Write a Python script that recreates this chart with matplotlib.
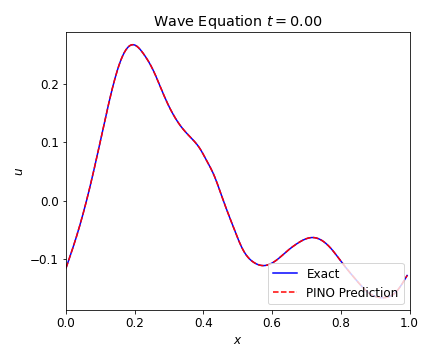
import matplotlib
matplotlib.use("Agg")
import matplotlib.pyplot as plt
import numpy as np

plt.rcParams["font.size"] = 12

# values (x, u)
x_pts = [0.0, 0.033, 0.062, 0.099, 0.138, 0.157, 0.176, 0.198, 0.225,
         0.254, 0.283, 0.307, 0.331, 0.360, 0.390, 0.409, 0.429, 0.458, 0.487,
         0.516, 0.545, 0.578, 0.612, 0.646, 0.671, 0.719, 0.767, 0.806, 0.845,
         0.884, 0.922, 0.961, 0.993]
u_exact = [-0.115, -0.056, 0.006, 0.100, 0.200, 0.237, 0.260, 0.267, 0.252,
           0.223, 0.183, 0.153, 0.130, 0.110, 0.089, 0.069, 0.046, 0.000, -0.045,
           -0.085, -0.105, -0.111, -0.102, -0.085, -0.074, -0.063, -0.079, -0.108, -0.136,
           -0.159, -0.166, -0.156, -0.128]
u_pred = u_exact


def spline(xp, yp, n=400):
    # natural cubic spline through the read points
    xp = np.asarray(xp, float)
    yp = np.asarray(yp, float)
    k = len(xp)
    h = np.diff(xp)
    A = np.zeros((k, k))
    b = np.zeros(k)
    A[0, 0] = A[-1, -1] = 1
    for i in range(1, k - 1):
        A[i, i - 1] = h[i - 1]
        A[i, i] = 2 * (h[i - 1] + h[i])
        A[i, i + 1] = h[i]
        b[i] = 3 * ((yp[i + 1] - yp[i]) / h[i] - (yp[i] - yp[i - 1]) / h[i - 1])
    c = np.linalg.solve(A, b)
    xs = np.linspace(xp[0], xp[-1], n)
    i = np.clip(np.searchsorted(xp, xs) - 1, 0, k - 2)
    d = xs - xp[i]
    bb = (yp[i + 1] - yp[i]) / h[i] - h[i] * (2 * c[i] + c[i + 1]) / 3
    dd = (c[i + 1] - c[i]) / (3 * h[i])
    return xs, yp[i] + bb * d + c[i] * d**2 + dd * d**3


fig = plt.figure(figsize=(6, 5), dpi=72)
ax = fig.add_subplot(111)
fig.subplots_adjust(left=0.153, right=0.948, bottom=0.138, top=0.911)

xs, ys = spline(x_pts, u_exact)
ax.plot(xs, ys, color="b", label="Exact")
xs, ys = spline(x_pts, u_pred)
ax.plot(xs, ys, "r--", label="PINO Prediction")

ax.set_xlim(0, 1)
ax.set_xlabel("$x$")
ax.set_ylabel("$u$")
ax.set_title("Wave Equation $t = 0.00$")
ax.legend(loc="lower right")

fig.savefig("out.png", dpi=72)
